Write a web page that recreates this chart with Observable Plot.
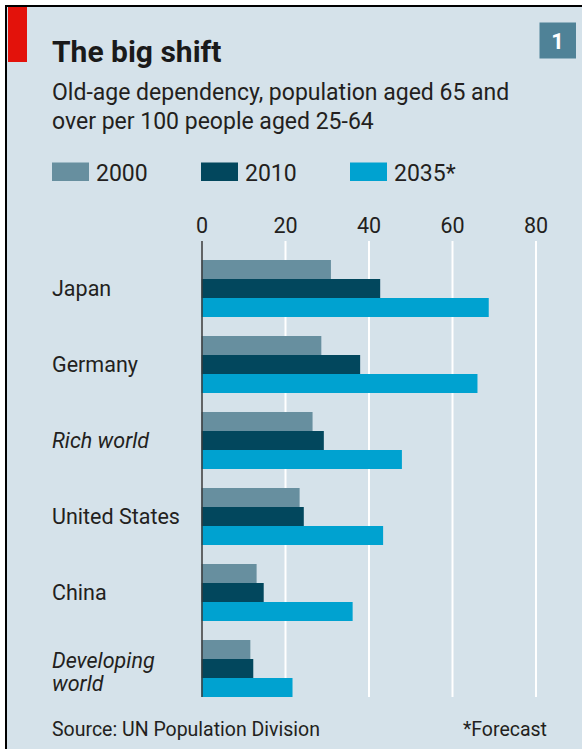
<!DOCTYPE html>
<html>
<head>
<meta charset="utf-8">
<script src="https://cdn.jsdelivr.net/npm/d3@7"></script>
<script src="https://cdn.jsdelivr.net/npm/@observablehq/plot@0.6"></script>
<style>
  html, body { margin: 0; padding: 0; background: #fff; }
  #card { position: relative; width: 582px; height: 749px; overflow: hidden; background: #fff; font-family: Roboto, sans-serif; color: #231f20; }
  #panel { position: absolute; left: 5px; top: 5px; width: 600px; height: 800px; background: #d5e2ea; border-left: 2.5px solid #000; border-top: 2.5px solid #000; }
  #header { position: absolute; left: 0; top: 0; }
  #chart { position: absolute; left: 0; top: 200px; }
  #chart svg { overflow: visible; }
</style>
</head>
<body>
<div id="card">
  <div id="panel"></div>
  <svg id="header" width="582" height="749"></svg>
  <div id="chart"></div>
</div>
<script>
// Old-age dependency ratio: population 65+ per 100 people aged 25-64
const countries = ["Japan", "Germany", "Rich world", "United States", "China", "Developing world"];
const italicGroups = ["Rich world", "Developing world"];
const years = ["2000", "2010", "2035"];
const yearLabels = ["2000", "2010", "2035*"];
const v2000 = [31, 28.7, 26.6, 23.5, 13.2, 11.7];
const v2010 = [42.8, 38, 29.3, 24.5, 14.9, 12.4];
const v2035 = [68.8, 66.1, 48, 43.5, 36.2, 21.8];
const barColors = ["#678f9f", "#02475d", "#00a2d0"];
const xTicks = [0, 20, 40, 60, 80];

const title = "The big shift";
const subtitle = ["Old-age dependency, population aged 65 and", "over per 100 people aged 25-64"];
const source = "Source: UN Population Division";
const footnote = "*Forecast";
const chartNumber = "1";

const seriesValues = [v2000, v2010, v2035];
const rows = countries.flatMap((country, i) =>
  years.map((year, j) => ({country, year, value: seriesValues[j][i]}))
);

// Header, legend and footer
const header = d3.select("#header");
header.append("rect").attr("x", 8).attr("y", 7).attr("width", 19).attr("height", 55).attr("fill", "#e3120b");
header.append("rect").attr("x", 539.5).attr("y", 22.5).attr("width", 36.5).attr("height", 36).attr("fill", "#4f8297");
header.append("text").attr("x", 557.5).attr("y", 49).attr("text-anchor", "middle")
  .attr("fill", "#fff").attr("font-weight", 700).attr("font-size", 22).text(chartNumber);
header.append("text").attr("x", 52).attr("y", 61.5).attr("font-weight", 700).attr("font-size", 30)
  .attr("fill", "#1a1a1a").text(title);
header.selectAll("text.sub").data(subtitle).join("text").attr("class", "sub")
  .attr("x", 52).attr("y", (d, i) => 100 + i * 28.5).attr("font-size", 23).attr("fill", "#231f20").text(d => d);

const legend = header.selectAll("g.key").data(yearLabels).join("g").attr("class", "key")
  .attr("transform", (d, i) => `translate(${52 + i * 149},0)`);
legend.append("rect").attr("y", 162.5).attr("width", 37).attr("height", 18.5).attr("fill", (d, i) => barColors[i]);
legend.append("text").attr("x", 44).attr("y", 181).attr("font-size", 23).attr("fill", "#231f20").text(d => d);

header.append("text").attr("x", 52).attr("y", 736).attr("font-size", 19.5).attr("fill", "#231f20").text(source);
header.append("text").attr("x", 547).attr("y", 736).attr("text-anchor", "end").attr("font-size", 19.5).attr("fill", "#231f20").text(footnote);

// Grouped horizontal bars, one facet per country
const labelText = d => d === "Developing world" ? "Developing\nworld" : d;
const labelOptions = {fy: d => d, text: labelText, frameAnchor: "left", textAnchor: "start", dx: -150, fontSize: 21.5, fill: "#231f20"};
const chart = Plot.plot({
  width: 582,
  height: 500,
  marginLeft: 201.5,
  marginRight: 46.5,
  marginTop: 38,
  marginBottom: 1,
  style: {background: "transparent", fontFamily: "Roboto, sans-serif", fontSize: "21.5px", color: "#231f20", overflow: "visible"},
  x: {domain: [0, 80], ticks: xTicks, axis: "top", tickSize: 0, tickPadding: 9, label: null},
  fy: {domain: countries, axis: null, padding: 0},
  y: {domain: years, axis: null, paddingInner: 0, paddingOuter: 0.49, align: 1},
  color: {domain: years, range: barColors},
  marks: [
    Plot.ruleX(xTicks.filter(t => t > 0), {stroke: "#fff", strokeWidth: 2}),
    Plot.barX(rows, {x: "value", y: "year", fy: "country", fill: "year"}),
    Plot.ruleX([0], {stroke: "#3a3a3a", strokeWidth: 1.5}),
    Plot.text(countries.filter(c => !italicGroups.includes(c)), {...labelOptions, dy: 9.5}),
    Plot.text(["Rich world"], {...labelOptions, dy: 9.5, fontStyle: "italic"}),
    Plot.text(["Developing world"], {...labelOptions, dy: 13, fontStyle: "italic", lineHeight: 1.05})
  ]
});
document.getElementById("chart").append(chart);
</script>
</body>
</html>
